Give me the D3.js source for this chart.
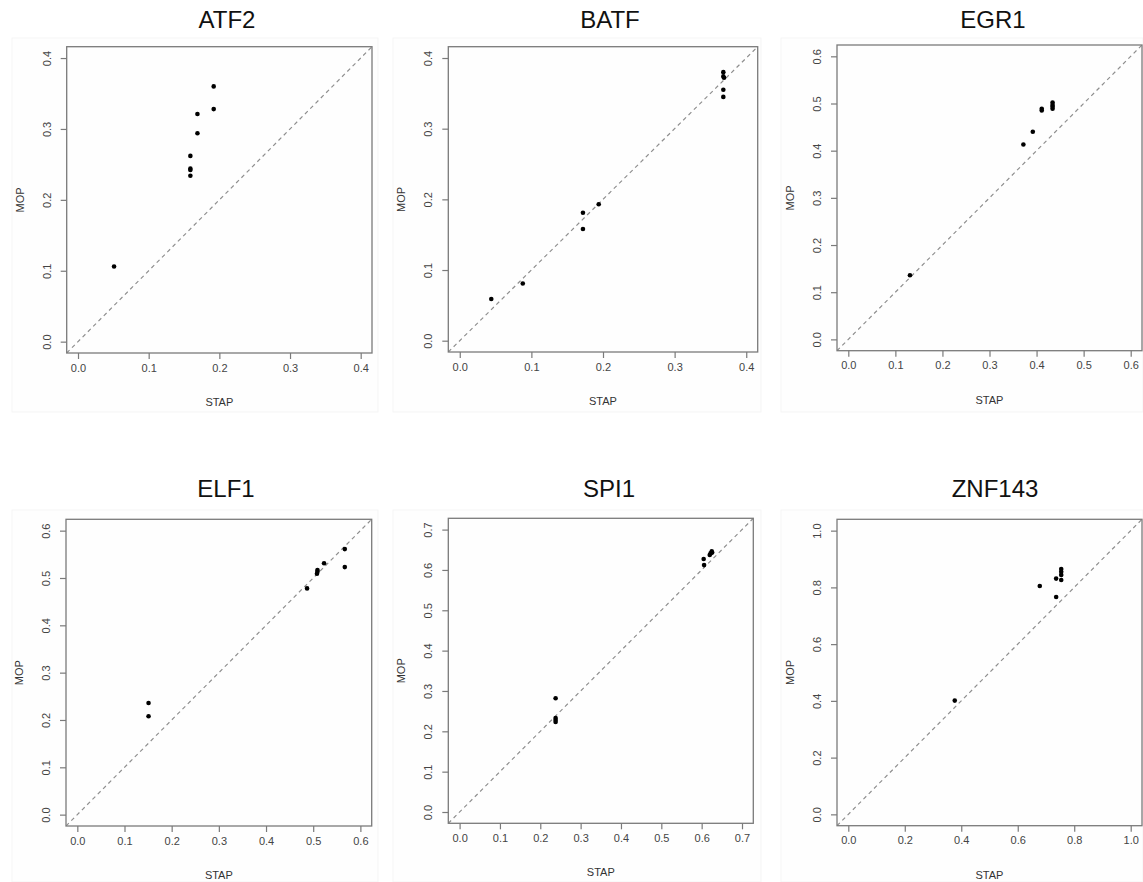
<!DOCTYPE html>
<html>
<head>
<meta charset="utf-8">
<script src="https://cdn.jsdelivr.net/npm/d3@7"></script>
<style>
  html, body { margin: 0; padding: 0; background: #ffffff; }
  svg { display: block; }
</style>
</head>
<body>
<svg id="chart" width="1143" height="882"></svg>
<script>
// ---- data ----
const genes = ["ATF2", "BATF", "EGR1", "ELF1", "SPI1", "ZNF143"];
const axisMax = [0.4, 0.4, 0.6, 0.6, 0.7, 1.0];
const tickStep = [0.1, 0.1, 0.1, 0.1, 0.1, 0.2];

const atf2Stap = [0.051, 0.159, 0.159, 0.159, 0.159, 0.169, 0.169, 0.192, 0.192];
const atf2Mop  = [0.106, 0.262, 0.244, 0.242, 0.234, 0.321, 0.294, 0.360, 0.328];

const batfStap = [0.044, 0.088, 0.172, 0.172, 0.194, 0.368, 0.368, 0.369, 0.368, 0.368];
const batfMop  = [0.059, 0.081, 0.181, 0.158, 0.193, 0.380, 0.374, 0.372, 0.355, 0.345];

const egr1Stap = [0.131, 0.372, 0.392, 0.411, 0.411, 0.434, 0.434, 0.434, 0.434];
const egr1Mop  = [0.136, 0.413, 0.440, 0.489, 0.485, 0.502, 0.497, 0.493, 0.489];

const elf1Stap = [0.151, 0.151, 0.487, 0.509, 0.509, 0.508, 0.523, 0.567, 0.567];
const elf1Mop  = [0.236, 0.208, 0.478, 0.517, 0.513, 0.509, 0.531, 0.561, 0.523];

const spi1Stap = [0.238, 0.238, 0.238, 0.238, 0.605, 0.606, 0.620, 0.622, 0.625, 0.626];
const spi1Mop  = [0.282, 0.233, 0.228, 0.223, 0.627, 0.612, 0.637, 0.641, 0.646, 0.643];

const znf143Stap = [0.377, 0.678, 0.736, 0.736, 0.754, 0.754, 0.754, 0.754];
const znf143Mop  = [0.401, 0.805, 0.831, 0.766, 0.865, 0.855, 0.844, 0.826];

const stapSeries = [atf2Stap, batfStap, egr1Stap, elf1Stap, spi1Stap, znf143Stap];
const mopSeries  = [atf2Mop, batfMop, egr1Mop, elf1Mop, spi1Mop, znf143Mop];

const xLabel = "STAP";
const yLabel = "MOP";

// ---- layout (plot box in pixels) ----
const boxes = [
  {x0: 66.7, x1: 372,   y0: 46.7,  y1: 353,   tx: 227, ty: 28},
  {x0: 448.3, x1: 757.7, y0: 46.7, y1: 352,   tx: 610, ty: 28},
  {x0: 837,  x1: 1142,  y0: 45,    y1: 350.7, tx: 993, ty: 28},
  {x0: 66,   x1: 371.7, y0: 519.3, y1: 826,   tx: 226, ty: 497},
  {x0: 448.3, x1: 753.3, y0: 518.3, y1: 823.3, tx: 609, ty: 497},
  {x0: 837,  x1: 1142,  y0: 519.3, y1: 825.7, tx: 995, ty: 497}
];
const panelBg = [
  {x: 12, y: 38, w: 366, h: 374},
  {x: 393, y: 38, w: 368, h: 374},
  {x: 781, y: 38, w: 362, h: 374},
  {x: 12, y: 510, w: 366, h: 372},
  {x: 393, y: 510, w: 368, h: 372},
  {x: 781, y: 510, w: 362, h: 372}
];

const svg = d3.select("#chart");
const FONT = "'Liberation Sans', Arial, Helvetica, sans-serif";
const fmt = d3.format(".1f");

genes.forEach((g, i) => {
  const b = boxes[i];
  const lim = axisMax[i];
  const ext = lim * 0.04;
  const x = d3.scaleLinear().domain([-ext, lim + ext]).range([b.x0, b.x1]);
  const y = d3.scaleLinear().domain([-ext, lim + ext]).range([b.y1, b.y0]);
  const ticks = d3.range(0, lim + tickStep[i] / 2, tickStep[i]);

  const pb = panelBg[i];
  svg.append("rect").attr("x", pb.x).attr("y", pb.y).attr("width", pb.w).attr("height", pb.h)
    .attr("fill", "#fefefe").attr("stroke", "#f5f5f5");

  const gp = svg.append("g");

  const clipId = "clip" + i;
  svg.append("clipPath").attr("id", clipId).append("rect")
    .attr("x", b.x0).attr("y", b.y0).attr("width", b.x1 - b.x0).attr("height", b.y1 - b.y0);

  // diagonal y = x
  gp.append("line")
    .attr("clip-path", `url(#${clipId})`)
    .attr("x1", x(-ext)).attr("y1", y(-ext))
    .attr("x2", x(lim + ext)).attr("y2", y(lim + ext))
    .attr("stroke", "#8f8f8f").attr("stroke-width", 1.2)
    .attr("stroke-dasharray", "4,3.5");

  // box
  gp.append("rect").attr("x", b.x0).attr("y", b.y0)
    .attr("width", b.x1 - b.x0).attr("height", b.y1 - b.y0)
    .attr("fill", "none").attr("stroke", "#7a7a7a").attr("stroke-width", 1.3);

  // x axis
  const xAxis = d3.axisBottom(x).tickValues(ticks).tickFormat(fmt).tickSize(6).tickPadding(5);
  const gx = gp.append("g").attr("transform", `translate(0,${b.y1})`).call(xAxis);
  gx.select(".domain").remove();
  gx.selectAll(".tick line").attr("stroke", "#7a7a7a").attr("stroke-width", 1.2);
  gx.selectAll(".tick text").attr("font-family", FONT).attr("font-size", 11)
    .attr("fill", "#444").attr("dy", "0.71em");

  // y axis
  const yAxis = d3.axisLeft(y).tickValues(ticks).tickFormat(fmt).tickSize(6).tickPadding(5);
  const gy = gp.append("g").attr("transform", `translate(${b.x0},0)`).call(yAxis);
  gy.select(".domain").remove();
  gy.selectAll(".tick line").attr("stroke", "#7a7a7a").attr("stroke-width", 1.2);
  gy.selectAll(".tick text")
    .attr("font-family", FONT).attr("font-size", 11).attr("fill", "#444")
    .attr("text-anchor", "middle").attr("x", null).attr("dy", null)
    .attr("transform", "translate(-20,0) rotate(-90)")
    .attr("dominant-baseline", "central");

  // axis labels
  gp.append("text").attr("x", (b.x0 + b.x1) / 2).attr("y", b.y1 + 49)
    .attr("text-anchor", "middle").attr("dominant-baseline", "central")
    .attr("font-family", FONT).attr("font-size", 11).attr("fill", "#333")
    .text(xLabel);
  gp.append("text")
    .attr("transform", `translate(${b.x0 - 47},${(b.y0 + b.y1) / 2}) rotate(-90)`)
    .attr("text-anchor", "middle").attr("dominant-baseline", "central")
    .attr("font-family", FONT).attr("font-size", 11).attr("fill", "#333")
    .text(yLabel);

  // title
  gp.append("text").attr("x", b.tx).attr("y", b.ty)
    .attr("text-anchor", "middle")
    .attr("font-family", FONT).attr("font-size", 24).attr("fill", "#111")
    .text(g);

  // points
  const pts = stapSeries[i].map((s, k) => ({s, m: mopSeries[i][k]}));
  gp.selectAll("circle.pt").data(pts).enter().append("circle")
    .attr("class", "pt")
    .attr("cx", d => x(d.s)).attr("cy", d => y(d.m))
    .attr("r", 2.3).attr("fill", "#000");
});
</script>
</body>
</html>
